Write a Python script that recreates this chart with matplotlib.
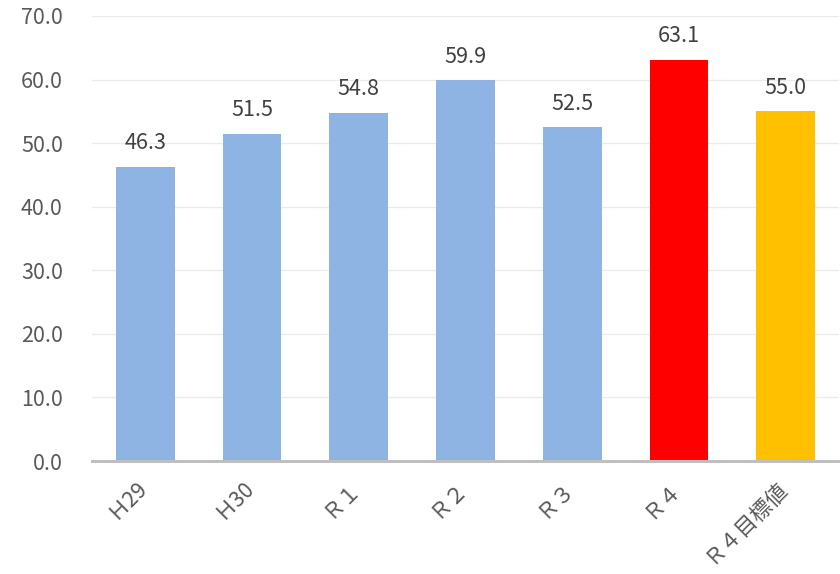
import matplotlib
matplotlib.use("Agg")
import matplotlib.pyplot as plt
from matplotlib.transforms import ScaledTranslation

plt.rcParams['font.family'] = ['Noto Sans CJK JP', 'DejaVu Sans']

categories = ["Ｈ29", "Ｈ30", "Ｒ１", "Ｒ２", "Ｒ３", "Ｒ４", "Ｒ４目標値"]
values = [46.3, 51.5, 54.8, 59.9, 52.5, 63.1, 55.0]
colors = ["#8db4e2", "#8db4e2", "#8db4e2", "#8db4e2", "#8db4e2", "#ff0000", "#ffc000"]
yticks = [0, 10, 20, 30, 40, 50, 60, 70]

fig = plt.figure(figsize=(8.4, 5.74), dpi=100)
ax = fig.add_axes([92 / 840, 1 - 461 / 574, 747 / 840, 445 / 574])

x = list(range(len(categories)))
ax.bar(x, values, width=0.55, color=colors, zorder=2)

for xi, v in zip(x, values):
    ax.annotate(f"{v:.1f}", (xi, v), xytext=(0, 9), textcoords="offset points",
                ha="center", va="bottom", fontsize=15.5, color="#404040")

ax.set_ylim(0, 70)
ax.set_xlim(-0.5, len(categories) - 0.5)
ax.set_yticks(yticks)
ax.set_yticklabels([f"{t:.1f}" for t in yticks], fontsize=15.5, color="#595959")
ax.yaxis.grid(True, color="#ebebeb", linewidth=1, zorder=0)
ax.tick_params(axis="y", length=0, pad=21)
ax.tick_params(axis="x", length=0, pad=11)
ax.set_xticks(x)
ax.set_xticklabels(categories, fontsize=15.5, color="#595959",
                   rotation=45, ha="right", va="top", rotation_mode="anchor")
shift = ScaledTranslation(-7 / 72, 0, fig.dpi_scale_trans)
for lbl in ax.get_xticklabels():
    lbl.set_transform(lbl.get_transform() + shift)

for side in ("top", "right", "left"):
    ax.spines[side].set_visible(False)
ax.spines["bottom"].set_color("#bfbfbf")
ax.spines["bottom"].set_linewidth(2.2)
ax.spines["bottom"].set_zorder(3)

fig.savefig("out.png", dpi=100)
